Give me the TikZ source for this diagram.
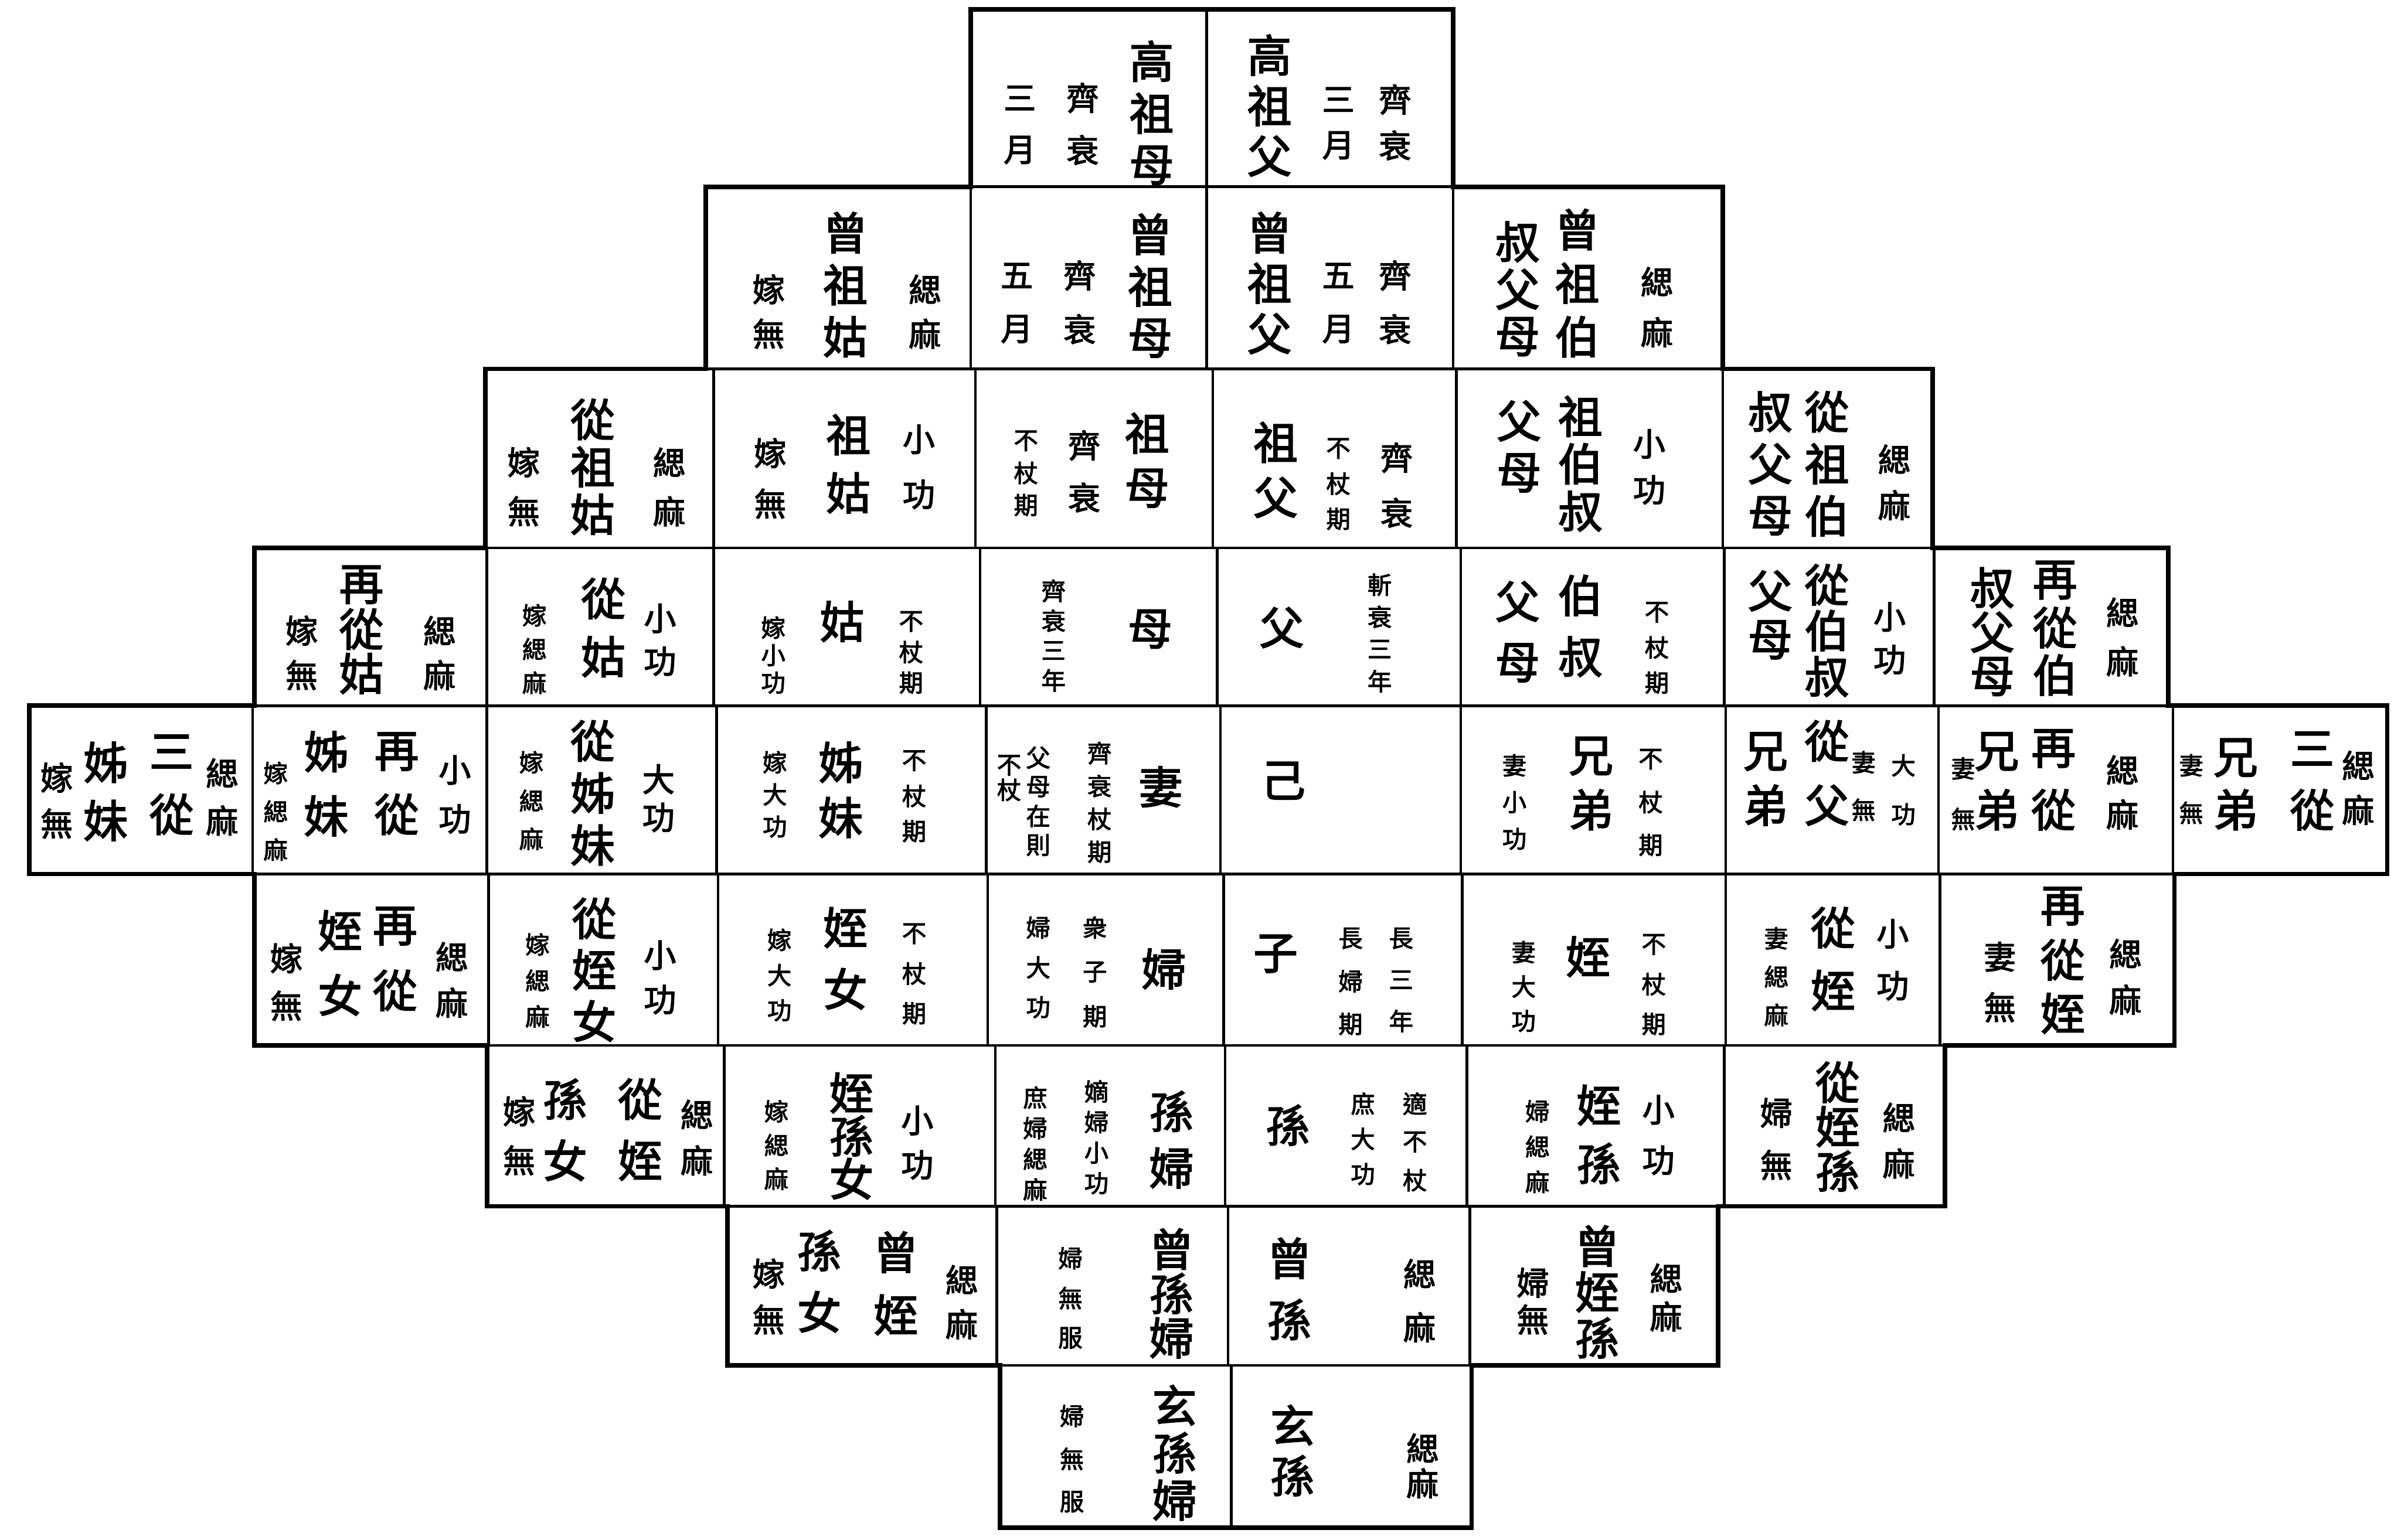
\documentclass[tikz,border=0pt]{standalone}
\usepackage{fontspec}
\setmainfont{Noto Sans CJK TC}[FakeBold=2.6]
\usepackage{tikz}
\newcommand{\vcol}[6]{\foreach \ch [count=\ci] in {#6} {\node[#2] (#1-\ci) at (#3,{#4+(\ci-1)*#5}) {\ch};}}

\begin{document}
\begin{tikzpicture}[x=0.02cm, y=-0.02cm,
  big/.style={font=\fontsize{16.5}{16.5}\selectfont, inner sep=0pt},
  sm/.style={font=\fontsize{12}{12}\selectfont, inner sep=0pt},
  tn/.style={font=\fontsize{9}{9}\selectfont, inner sep=0pt},
  rule/.style={line width=1pt},
  frame/.style={line width=1.7pt, line join=miter}]
\useasboundingbox (0,0) rectangle (1568,1006);
% grid of the chart
\foreach \ya/\yb/\xs in {6/122/{634,788,949}, 122/241/{461,634,788,949,1125},
  241/358/{317,466,637,792,951,1125,1262}, 358/461/{166,318,466,640,795,954,1126,1263,1416},
  461/571/{19,165,318,468,644,797,954,1127,1266,1419,1559}, 571/683/{166,319,469,645,799,955,1127,1267,1420},
  683/788/{318,473,650,800,958,1126,1270}, 788/892/{475,651,802,960,1122}, 892/998/{653,804,961}}
  {\foreach \x in \xs {\draw[rule] (\x,\ya) -- (\x,\yb);}}
\foreach \y/\xa/\xb in {122/461/1125, 241/317/1262, 358/166/1416, 461/19/1559, 571/19/1559, 683/166/1420, 788/318/1270, 892/475/1122}
  \draw[rule] (\xa,\y) -- (\xb,\y);
\draw[frame] (634,6) -- (949,6) -- (949,122) -- (1125,122) -- (1125,241) -- (1262,241) -- (1262,358) -- (1416,358) -- (1416,461) -- (1559,461) -- (1559,571) -- (1420,571) -- (1420,683) -- (1270,683) -- (1270,788) -- (1122,788) -- (1122,892) -- (961,892) -- (961,998) -- (653,998) -- (653,892) -- (475,892) -- (475,788) -- (318,788) -- (318,683) -- (166,683) -- (166,571) -- (19,571) -- (19,461) -- (166,461) -- (166,358) -- (317,358) -- (317,241) -- (461,241) -- (461,122) -- (634,122) -- cycle;

% row 0
\vcol{gzm}{big}{752}{40}{34}{高,祖,母}
\vcol{gzm-a}{sm}{707}{64}{34}{齊,衰}
\vcol{gzm-b}{sm}{666}{64}{34}{三,月}
\vcol{gzf}{big}{829}{36}{33}{高,祖,父}
\vcol{gzf-a}{sm}{874}{65}{30}{三,月}
\vcol{gzf-b}{sm}{911}{65}{30}{齊,衰}
% row 1
\vcol{czg}{big}{552}{152}{34}{曾,祖,姑}
\vcol{czg-a}{sm}{502}{189}{29}{嫁,無}
\vcol{czg-b}{sm}{604}{189}{29}{緦,麻}
\vcol{czm}{big}{751}{153}{34}{曾,祖,母}
\vcol{czm-a}{sm}{705}{180}{35}{齊,衰}
\vcol{czm-b}{sm}{664}{180}{35}{五,月}
\vcol{czf}{big}{829}{152}{33}{曾,祖,父}
\vcol{czf-a}{sm}{874}{180}{35}{五,月}
\vcol{czf-b}{sm}{911}{180}{35}{齊,衰}
\vcol{cbzr}{big}{1030}{150}{35}{曾,祖,伯}
\vcol{cbzl}{big}{991}{158}{31}{叔,父,母}
\vcol{cbz-a}{sm}{1082}{184}{33}{緦,麻}
% row 2
\vcol{czgu}{big}{387}{274}{31}{從,祖,姑}
\vcol{czgu-a}{sm}{342}{302}{32}{嫁,無}
\vcol{czgu-b}{sm}{437}{302}{32}{緦,麻}
\vcol{zg}{big}{554}{284}{38}{祖,姑}
\vcol{zg-a}{sm}{503}{296}{33}{嫁,無}
\vcol{zg-b}{sm}{600}{287}{36}{小,功}
\vcol{zm}{big}{749}{283}{36}{祖,母}
\vcol{zm-a}{sm}{708}{291}{34}{齊,衰}
\vcol{zm-b}{tn}{670}{288}{21}{不,杖,期}
\vcol{zf}{big}{833}{289}{36}{祖,父}
\vcol{zf-a}{tn}{874}{293}{23}{不,杖,期}
\vcol{zf-b}{sm}{912}{299}{36}{齊,衰}
\vcol{bszr}{big}{1032}{272}{31}{祖,伯,叔}
\vcol{bszl}{big}{992}{275}{34}{父,母}
\vcol{bsz-a}{sm}{1077}{290}{30}{小,功}
\vcol{cbszr}{big}{1193}{269}{34}{從,祖,伯}
\vcol{cbszl}{big}{1156}{269}{34}{叔,父,母}
\vcol{cbsz-a}{sm}{1237}{300}{30}{緦,麻}
% row 3
\vcol{zcg}{big}{236}{382}{29}{再,從,姑}
\vcol{zcg-a}{sm}{197}{412}{29}{嫁,無}
\vcol{zcg-b}{sm}{287}{412}{29}{緦,麻}
\vcol{cg}{big}{394}{391}{38}{從,姑}
\vcol{cg-a}{tn}{349}{402}{22}{嫁,緦,麻}
\vcol{cg-b}{sm}{431}{404}{28}{小,功}
\vcol{gu}{big}{550}{406}{0}{姑}
\vcol{gu-a}{tn}{505}{410}{18}{嫁,小,功}
\vcol{gu-b}{tn}{595}{406}{20}{不,杖,期}
\vcol{mu}{big}{751}{411}{0}{母}
\vcol{mu-a}{tn}{688}{386}{19.5}{齊,衰,三,年}
\vcol{fu}{big}{837}{410}{0}{父}
\vcol{fu-a}{tn}{901}{382}{21}{斬,衰,三,年}
\vcol{bsfr}{big}{1032}{389}{40}{伯,叔}
\vcol{bsfl}{big}{991}{393}{40}{父,母}
\vcol{bsf-a}{tn}{1082}{400}{23}{不,杖,期}
\vcol{cbsfr}{big}{1193}{382}{30}{從,伯,叔}
\vcol{cbsfl}{big}{1156}{386}{32}{父,母}
\vcol{cbsf-a}{sm}{1234}{403}{28}{小,功}
\vcol{zcbsfr}{big}{1342}{379}{31}{再,從,伯}
\vcol{zcbsfl}{big}{1301}{384}{29}{叔,父,母}
\vcol{zcbsf-a}{sm}{1386}{400}{32}{緦,麻}
% row 4
\vcol{sjmr}{big}{112}{491}{41}{三,從}
\vcol{sjml}{big}{69}{498}{38}{姊,妹}
\vcol{sjm-a}{sm}{145}{505}{31}{緦,麻}
\vcol{sjm-b}{sm}{37}{508}{30}{嫁,無}
\vcol{zjmr}{big}{259}{491}{41}{再,從}
\vcol{zjml}{big}{213}{491}{42}{姊,妹}
\vcol{zjm-a}{sm}{297}{503}{32}{小,功}
\vcol{zjm-b}{tn}{180}{505}{25}{嫁,緦,麻}
\vcol{cjm}{big}{387}{484}{34}{從,姊,妹}
\vcol{cjm-a}{tn}{347}{498}{25}{嫁,緦,麻}
\vcol{cjm-b}{sm}{430}{509}{25}{大,功}
\vcol{jm}{big}{549}{498}{36}{姊,妹}
\vcol{jm-a}{tn}{506}{498}{21}{嫁,大,功}
\vcol{jm-b}{tn}{597}{497}{23}{不,杖,期}
\vcol{qi}{big}{758}{514}{0}{妻}
\vcol{qi-a}{tn}{718}{492}{21.5}{齊,衰,杖,期}
\vcol{qi-b}{tn}{678}{495}{19}{父,母,在,則}
\vcol{qi-c}{tn}{659}{500}{16}{不,杖}
\vcol{ji}{big}{838}{510}{0}{己}
\vcol{xd}{big}{1039}{494}{35}{兄,弟}
\vcol{xd-a}{tn}{989}{500}{24}{妻,小,功}
\vcol{xd-b}{tn}{1078}{496}{28}{不,杖,期}
\vcol{cxdr}{big}{1193}{484}{42}{從,父}
\vcol{cxdl}{big}{1153}{491}{35}{兄,弟}
\vcol{cxd-a}{tn}{1217}{498}{31}{妻,無}
\vcol{cxd-b}{tn}{1243}{500}{32}{大,功}
\vcol{zcxdr}{big}{1341}{489}{40}{再,從}
\vcol{zcxdl}{big}{1304}{491}{38}{兄,弟}
\vcol{zcxd-a}{tn}{1282}{502}{33}{妻,無}
\vcol{zcxd-b}{sm}{1386}{503}{29}{緦,麻}
\vcol{scxdr}{big}{1510}{489}{40}{三,從}
\vcol{scxdl}{big}{1460}{495}{34}{兄,弟}
\vcol{scxd-a}{tn}{1431}{500}{31}{妻,無}
\vcol{scxd-b}{sm}{1540}{500}{29}{緦,麻}
% row 5
\vcol{zcznr}{big}{258}{605}{42}{再,從}
\vcol{zcznl}{big}{222}{608}{42}{姪,女}
\vcol{zczn-a}{sm}{187}{626}{31}{嫁,無}
\vcol{zczn-b}{sm}{295}{625}{30}{緦,麻}
\vcol{czn}{big}{388}{600}{33.5}{從,姪,女}
\vcol{czn-a}{tn}{351}{617}{23.5}{嫁,緦,麻}
\vcol{czn-b}{sm}{431}{624}{29}{小,功}
\vcol{zn}{big}{552}{606}{40}{姪,女}
\vcol{zn-a}{tn}{509}{614}{23}{嫁,大,功}
\vcol{zn-b}{tn}{597}{610}{26}{不,杖,期}
\vcol{fuu}{big}{760}{633}{0}{婦}
\vcol{fuu-a}{tn}{715}{606}{29}{衆,子,期}
\vcol{fuu-b}{tn}{678}{606}{26}{婦,大,功}
\vcol{zi}{big}{833}{623}{0}{子}
\vcol{zi-a}{tn}{882}{613}{28}{長,婦,期}
\vcol{zi-b}{tn}{915}{613}{27}{長,三,年}
\vcol{zhi}{big}{1037}{625}{0}{姪}
\vcol{zhi-a}{tn}{995}{622}{22.5}{妻,大,功}
\vcol{zhi-b}{tn}{1080}{617}{26}{不,杖,期}
\vcol{czhi}{big}{1197}{606}{41}{從,姪}
\vcol{czhi-a}{tn}{1160}{613}{25}{妻,緦,麻}
\vcol{czhi-b}{sm}{1236}{610}{34}{小,功}
\vcol{zczhi}{big}{1347}{592}{35}{再,從,姪}
\vcol{zczhi-a}{sm}{1306}{625}{33}{妻,無}
\vcol{zczhi-b}{sm}{1388}{623}{30}{緦,麻}
% row 6
\vcol{czsnr}{big}{418}{718}{40}{從,姪}
\vcol{czsnl}{big}{369}{718}{40}{孫,女}
\vcol{czsn-a}{sm}{339}{726}{32}{嫁,無}
\vcol{czsn-b}{sm}{455}{728}{30}{緦,麻}
\vcol{zsn}{big}{556}{714}{28}{姪,孫,女}
\vcol{zsn-a}{tn}{507}{726}{22}{嫁,緦,麻}
\vcol{zsn-b}{sm}{599}{732}{29}{小,功}
\vcol{sf}{big}{765}{726}{37}{孫,婦}
\vcol{sf-a}{tn}{716}{713}{20}{嫡,婦,小,功}
\vcol{sf-b}{tn}{676}{717}{20}{庶,婦,緦,麻}
\vcol{sun}{big}{841}{735}{0}{孫}
\vcol{sun-a}{tn}{890}{721}{23}{庶,大,功}
\vcol{sun-b}{tn}{924}{721}{25}{適,不,杖}
\vcol{zs}{big}{1044}{722}{38}{姪,孫}
\vcol{zs-a}{tn}{1004}{726}{23}{婦,緦,麻}
\vcol{zs-b}{sm}{1083}{725}{33}{小,功}
\vcol{czs}{big}{1200}{707}{29}{從,姪,孫}
\vcol{czs-a}{sm}{1160}{727}{34}{婦,無}
\vcol{czs-b}{sm}{1240}{730}{30}{緦,麻}
% row 7
\vcol{czsvr}{big}{585}{818}{41}{曾,姪}
\vcol{czsvl}{big}{535}{817}{40}{孫,女}
\vcol{czsv-a}{sm}{502}{832}{30}{嫁,無}
\vcol{czsv-b}{sm}{628}{836}{29}{緦,麻}
\vcol{csf}{big}{765}{816}{29}{曾,孫,婦}
\vcol{csf-a}{tn}{699}{822}{26}{婦,無,服}
\vcol{cs}{big}{842}{822}{40}{曾,孫}
\vcol{cs-a}{sm}{927}{832}{35}{緦,麻}
\vcol{czsu}{big}{1043}{814}{30}{曾,姪,孫}
\vcol{czsu-a}{sm}{1001}{838}{24}{婦,無}
\vcol{czsu-b}{sm}{1088}{835}{25}{緦,麻}
% row 8
\vcol{xsf}{big}{767}{918}{31}{玄,孫,婦}
\vcol{xsf-a}{tn}{700}{925}{28}{婦,無,服}
\vcol{xs}{big}{844}{931}{33}{玄,孫}
\vcol{xs-a}{sm}{929}{946}{23}{緦,麻}
\end{tikzpicture}
\end{document}
